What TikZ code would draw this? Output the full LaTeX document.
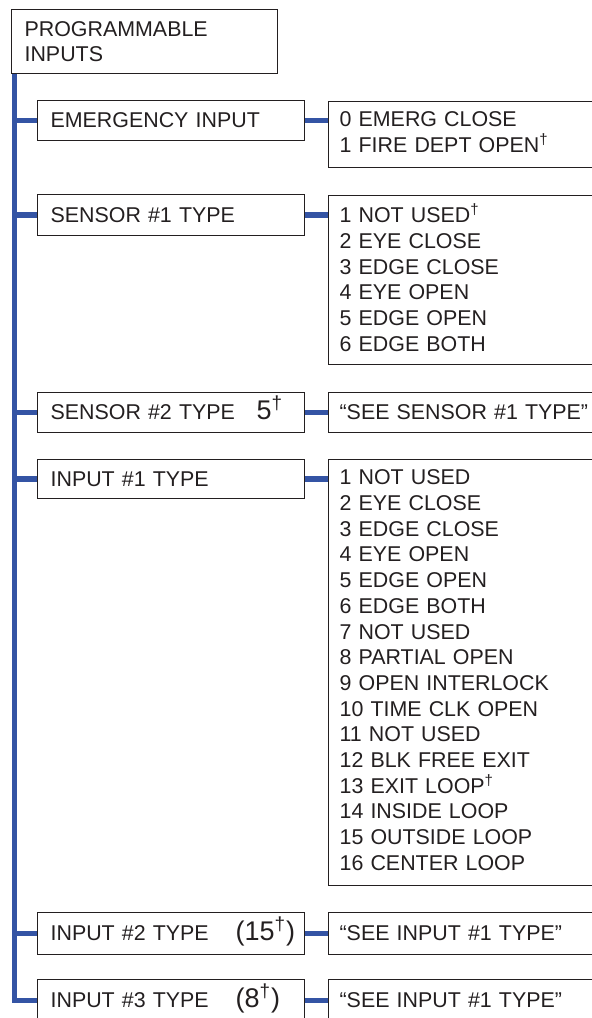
\documentclass[tikz,border=0pt]{standalone}
\usepackage{fontspec}
\setmainfont{Liberation Sans}
\definecolor{busblue}{RGB}{52,84,164}
\definecolor{ink}{RGB}{35,31,32}
\newcommand{\dg}{\textsuperscript{†}}
\newcommand{\bignum}[1]{\smash{\fontsize{13.5}{14}\selectfont #1}}

\begin{document}
\begin{tikzpicture}[x=0.5pt,y=0.5pt,
	every node/.style={font=\fontsize{10.7}{12.85}\selectfont, text=ink},
	itembox/.style={draw=ink, line width=0.6pt, anchor=north west, inner xsep=6.5pt, inner ysep=0pt, text width=120.5pt, align=left},
	optbox/.style={draw=ink, line width=0.6pt, anchor=north west, inner xsep=5.5pt, inner ysep=0pt, text width=139pt, align=left},
	listbox/.style={optbox, execute at end node={\rule[-2.5pt]{0pt}{2.5pt}}},
	bus/.style={draw=busblue, line width=2.8pt}]
	\useasboundingbox (0,0) rectangle (592,-1018);
	\clip (0,0) rectangle (592,-1018);
	\node [itembox, text width=120pt, minimum height=32pt] (prog) at (11,-9) {PROGRAMMABLE\\INPUTS};
	\node [itembox, minimum height=20pt] (emer) at (37,-100) {EMERGENCY INPUT};
	\node [listbox, minimum height=33pt] (emeropts) at (328,-101) {0 EMERG CLOSE\\1 FIRE DEPT OPEN\dg};
	\node [itembox, minimum height=20.5pt] (sen1) at (37,-194) {SENSOR \#1 TYPE};
	\node [listbox, minimum height=84.5pt] (sen1opts) at (328,-195) {1 NOT USED\dg\\2 EYE CLOSE\\3 EDGE CLOSE\\4 EYE OPEN\\5 EDGE OPEN\\6 EDGE BOTH};
	\node [itembox, minimum height=20pt] (sen2) at (37,-392) {SENSOR \#2 TYPE\hfill\makebox[12.5pt][l]{\bignum{5\dg}}\hspace*{5pt}};
	\node [optbox, minimum height=20pt] (sen2opts) at (328,-392) {“SEE SENSOR \#1 TYPE”};
	\node [itembox, minimum height=19.5pt] (in1) at (37,-459) {INPUT \#1 TYPE};
	\node [listbox, minimum height=213pt] (in1opts) at (328,-459) {1 NOT USED\\2 EYE CLOSE\\3 EDGE CLOSE\\4 EYE OPEN\\5 EDGE OPEN\\6 EDGE BOTH\\7 NOT USED\\8 PARTIAL OPEN\\9 OPEN INTERLOCK\\10 TIME CLK OPEN\\11 NOT USED\\12 BLK FREE EXIT\\13 EXIT LOOP\dg\\14 INSIDE LOOP\\15 OUTSIDE LOOP\\16 CENTER LOOP};
	\node [itembox, minimum height=21pt] (in2) at (37,-912) {INPUT \#2 TYPE\hfill\makebox[28pt][l]{\bignum{(15\dg)}}};
	\node [optbox, minimum height=21pt] (in2opts) at (328,-912) {“SEE INPUT \#1 TYPE”};
	\node [itembox, minimum height=21pt] (in3) at (37,-979) {INPUT \#3 TYPE\hfill\makebox[28pt][l]{\bignum{(8\dg)}}};
	\node [optbox, minimum height=21pt] (in3opts) at (328,-979) {“SEE INPUT \#1 TYPE”};
	\coordinate (trunk) at ([xshift=1.75pt]prog.south west);
	\draw [bus] (trunk) |- (in3.west);
	\foreach \n in {emer,sen1,sen2,in1,in2}
		\draw [bus] (trunk |- \n.west) -- (\n.west);
	\foreach \n in {emer,sen1,sen2,in1,in2,in3}
		\draw [bus] (\n.east) -- (\n.east -| \n opts.west);
\end{tikzpicture}
\end{document}
